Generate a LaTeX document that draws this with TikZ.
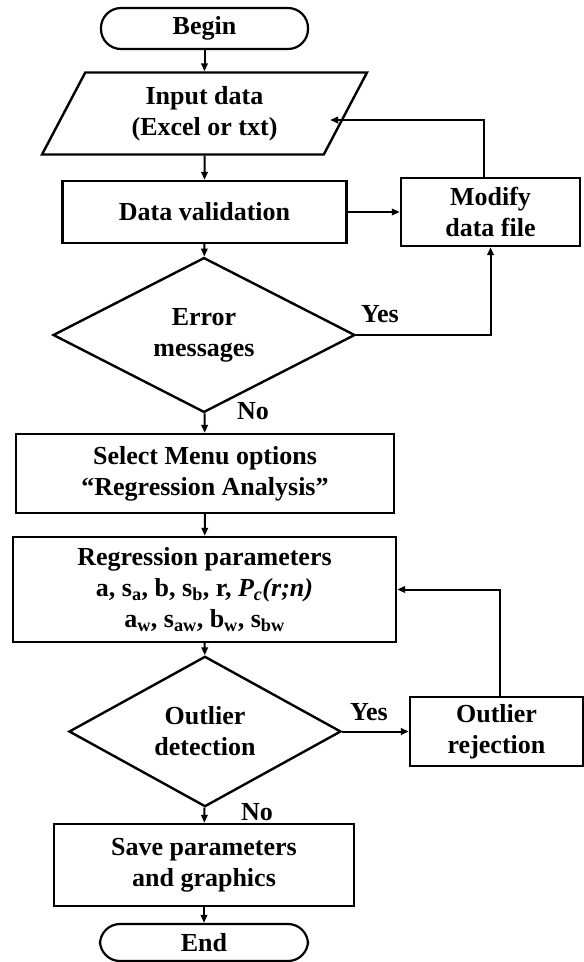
\documentclass[tikz,border=0pt]{standalone}
\usepackage{fontspec}
\setmainfont{Liberation Serif}
\usetikzlibrary{shapes.geometric,arrows.meta,positioning}
\begin{document}
\begin{tikzpicture}[x=1pt,y=-1pt,
  every node/.style={font=\bfseries\fontsize{26}{31}\selectfont, inner sep=0pt, align=center},
  boxnode/.style={draw, line width=2.4pt, rectangle},
  termnode/.style={draw, line width=2.2pt, rectangle, rounded corners=20pt},
  decnode/.style={draw, line width=2.4pt, diamond},
  ionode/.style={draw, line width=2.4pt, trapezium, trapezium left angle=51.6, trapezium right angle=128.4, trapezium stretches body},
  arr/.style={line width=2pt, -{Triangle[length=8pt,width=6.5pt]}},
  lbl/.style={}
]
\useasboundingbox (0,0) rectangle (584,962);

\node[termnode, minimum width=207pt, minimum height=41pt] (begin) at (204.5,28.5) {Begin};
\node[ionode, minimum width=325pt, minimum height=82pt] (inp) at (204.5,113.5) {Input data\\(Excel or txt)};
\coordinate (inpR) at (330,120);
\node[boxnode, minimum width=284pt, minimum height=62pt] (val) at (204.5,212) {Data validation};
\node[boxnode, minimum width=179pt, minimum height=68pt] (mod) at (490.5,212) {Modify\\data file};
\node[decnode, minimum width=302pt, minimum height=130pt] (err) at (204,335) {Error\\messages};
\node[boxnode, minimum width=378pt, minimum height=79pt] (sel) at (205,473.5) {Select Menu options\\“Regression Analysis”};
\node[boxnode, minimum width=383pt, minimum height=105pt] (reg) at (204.5,589.5) {Regression parameters\\a, s\textsubscript{a}, b, s\textsubscript{b}, r, \textit{P\textsubscript{c}(r;n)}\\a\textsubscript{w}, s\textsubscript{aw}, b\textsubscript{w}, s\textsubscript{bw}};
\node[decnode, minimum width=272pt, minimum height=127pt] (out) at (205,731.5) {Outlier\\detection};
\node[boxnode, minimum width=173pt, minimum height=69pt] (rej) at (496.5,731.5) {Outlier\\rejection};
\node[boxnode, minimum width=300pt, minimum height=82pt] (save) at (204,865) {Save parameters\\and graphics};
\node[termnode, minimum width=208pt, minimum height=37pt] (end) at (204,942.5) {End};

\node[lbl] (yes1) at (380,314) {Yes};
\node[lbl] (no1) at (253,411) {No};
\node[lbl] (yes2) at (369,712) {Yes};
\node[lbl] (no2) at (257,812) {No};

\draw[arr] (begin) -- (inp);
\draw[arr] (inp) -- (val);
\draw[arr] (val) -- (err);
\draw[arr] (err) -- (sel);
\draw[arr] (sel) -- (reg);
\draw[arr] (reg) -- (out);
\draw[arr] (out) -- (save);
\draw[arr] (save) -- (end);
\draw[arr] (val) -- (mod);
\draw[arr] (err.east) -| (mod.south);
\draw[arr] ([xshift=-6.5pt]mod.north) |- (inpR);
\draw[arr] (out.east) -- (rej.west);
\draw[arr] ([xshift=3.5pt]rej.north) |- (reg.east);
\end{tikzpicture}
\end{document}
